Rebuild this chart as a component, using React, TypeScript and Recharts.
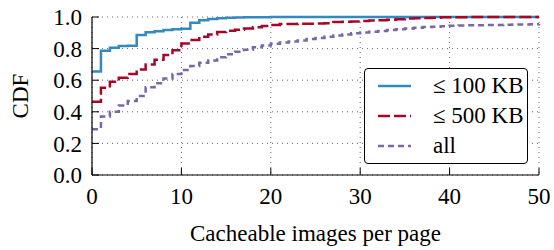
import { CartesianGrid, Legend, Line, LineChart, XAxis, YAxis } from "recharts"

// cacheable images per page (x) and CDF per size bucket
const pages = [
  0, 1, 2, 3, 4, 5, 6, 7, 8, 9, 10, 11, 12, 13, 14, 15, 16, 17, 18, 19, 20, 21, 22, 23, 24, 25,
  26, 27, 28, 29, 30, 31, 32, 33, 34, 35, 36, 37, 38, 39, 40, 41, 42, 43, 44, 45, 46, 47, 48, 49, 50,
]
const upTo100 = [
  0.655, 0.787, 0.806, 0.816, 0.818, 0.886, 0.903, 0.91, 0.918, 0.922, 0.926, 0.964, 0.98, 0.987, 0.992, 0.995,
  0.997, 0.998, 0.999, 0.999, 1, 1, 1, 1, 1, 1, 1, 1, 1, 1, 1, 1, 1, 1, 1, 1, 1, 1, 1, 1, 1, 1, 1, 1, 1, 1, 1, 1,
  1, 1, 1,
]
const upTo500 = [
  0.464, 0.552, 0.59, 0.615, 0.64, 0.668, 0.7, 0.73, 0.76, 0.79, 0.832, 0.854, 0.875, 0.89, 0.905, 0.913, 0.92,
  0.927, 0.935, 0.943, 0.95, 0.955, 0.956, 0.957, 0.958, 0.959, 0.96, 0.968, 0.97, 0.972, 0.975, 0.978, 0.98,
  0.983, 0.986, 0.99, 0.992, 0.994, 0.996, 0.998, 0.999, 0.999, 1, 1, 1, 1, 1, 1, 1, 1, 1,
]
const allImages = [
  0.29, 0.37, 0.4, 0.44, 0.468, 0.5, 0.555, 0.58, 0.61, 0.64, 0.665, 0.69, 0.71, 0.725, 0.745, 0.765, 0.78,
  0.793, 0.808, 0.82, 0.83, 0.838, 0.845, 0.852, 0.86, 0.867, 0.875, 0.883, 0.89, 0.897, 0.902, 0.907, 0.912,
  0.917, 0.922, 0.927, 0.932, 0.936, 0.939, 0.942, 0.945, 0.946, 0.947, 0.948, 0.949, 0.95, 0.951, 0.952, 0.953,
  0.954, 0.955,
]
const xTicks = [0, 10, 20, 30, 40, 50]
const yTicks = [0, 0.2, 0.4, 0.6, 0.8, 1]

const series = [
  { key: "small", name: "≤ 100 KB", color: "#348ABD", dash: undefined },
  { key: "medium", name: "≤ 500 KB", color: "#A60628", dash: "12 4" },
  { key: "all", name: "all", color: "#7A68A6", dash: "6 4" },
]

const data = pages.map((x, i) => ({
  x,
  small: upTo100[i],
  medium: upTo500[i],
  all: allImages[i],
}))

const font = "Liberation Serif"
const tickStyle = { fontFamily: font, fontSize: 23, fill: "#000" }

const LegendBox = () => (
  <div
    style={{
      border: "1.2px solid #000",
      borderRadius: 4,
      background: "#fff",
      width: 164,
      height: 96,
      boxSizing: "border-box",
      paddingTop: 2,
      fontFamily: font,
      fontSize: 23,
      lineHeight: "30px",
      color: "#000",
      textAlign: "left",
    }}
  >
    {series.map((s) => (
      <div key={s.key} style={{ display: "flex", alignItems: "center", height: 30 }}>
        <svg width={68} height={10} style={{ flex: "none" }}>
          <line
            x1={13}
            x2={46}
            y1={5}
            y2={5}
            stroke={s.color}
            strokeWidth={2.5}
            strokeDasharray={s.dash}
          />
        </svg>
        <span style={{ fontFamily: font }}>{s.name}</span>
      </div>
    ))}
  </div>
)

export default function App() {
  return (
    <div style={{ position: "absolute", left: 0, top: 0, fontFamily: font }}>
      <LineChart
        width={554}
        height={250}
        data={data}
        style={{ fontFamily: font }}
        margin={{ top: 17, right: 15, left: 0, bottom: 0 }}
      >
        <CartesianGrid stroke="#666" strokeDasharray="1 4" />
        <XAxis
          dataKey="x"
          type="number"
          domain={[0, 50]}
          ticks={xTicks}
          height={75}
          tick={tickStyle}
          tickSize={-7}
          tickMargin={20}
          tickLine={{ stroke: "#000" }}
          axisLine={{ stroke: "#000", strokeWidth: 1.2 }}
          label={{ value: "Cacheable images per page", position: "center", dy: 20, style: tickStyle }}
        />
        <XAxis
          xAxisId="top"
          orientation="top"
          dataKey="x"
          type="number"
          domain={[0, 50]}
          ticks={xTicks}
          height={0}
          tickSize={-7}
          tickFormatter={() => ""}
          tickLine={{ stroke: "#000" }}
          axisLine={{ stroke: "#000", strokeWidth: 1.2 }}
        />
        <YAxis
          type="number"
          domain={[0, 1]}
          ticks={yTicks}
          width={92}
          tick={tickStyle}
          tickSize={-7}
          tickMargin={17}
          tickFormatter={(v: number) => v.toFixed(1)}
          tickLine={{ stroke: "#000" }}
          axisLine={{ stroke: "#000", strokeWidth: 1.2 }}
          label={{ value: "CDF", angle: -90, position: "center", dx: -26, style: tickStyle }}
        />
        <YAxis
          yAxisId="right"
          orientation="right"
          type="number"
          domain={[0, 1]}
          ticks={yTicks}
          width={0}
          tickSize={-7}
          tickFormatter={() => ""}
          tickLine={{ stroke: "#000" }}
          axisLine={{ stroke: "#000", strokeWidth: 1.2 }}
        />
        {series.map((s) => (
          <Line
            key={s.key}
            type="stepAfter"
            dataKey={s.key}
            name={s.name}
            stroke={s.color}
            strokeWidth={2.5}
            strokeDasharray={s.dash}
            dot={false}
            activeDot={false}
            isAnimationActive={false}
          />
        ))}
        <Legend
          layout="horizontal"
          verticalAlign="middle"
          align="center"
          content={() => <LegendBox />}
          wrapperStyle={{ position: "absolute", left: 364, top: 68, width: 164, height: 96 }}
        />
      </LineChart>
    </div>
  )
}
